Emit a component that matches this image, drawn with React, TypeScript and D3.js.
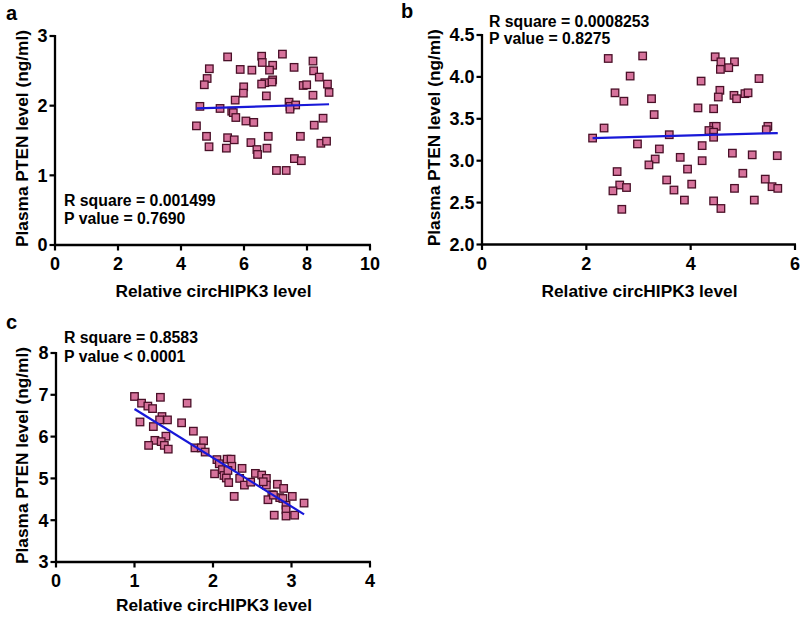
import React from "react";
import * as d3 from "d3";

// ---------- Data ----------
const aX = [5.48,6.56,7.22,6.58,6.91,6.81,7.59,8.19,8.21,8.39,4.90,4.83,4.74,5.88,6.25,5.99,5.98,6.66,6.56,6.91,6.89,7.88,7.99,8.65,8.70,8.19,6.71,5.72,4.60,5.24,5.61,5.66,5.74,7.43,7.46,7.64,7.46,6.06,6.31,4.49,8.51,8.23,4.81,5.48,5.69,6.77,7.79,4.89,5.44,6.22,6.41,6.43,6.73,8.44,8.62,7.60,7.82,7.03,7.34];
const aY = [2.70,2.71,2.74,2.62,2.58,2.51,2.55,2.64,2.50,2.41,2.53,2.39,2.30,2.52,2.51,2.27,2.18,2.33,2.31,2.37,2.34,2.29,2.30,2.31,2.19,2.15,2.14,2.08,1.99,1.96,1.92,1.90,1.83,2.05,1.99,2.01,1.95,1.78,1.76,1.71,1.82,1.72,1.56,1.54,1.51,1.56,1.56,1.41,1.39,1.47,1.37,1.30,1.39,1.46,1.49,1.24,1.21,1.07,1.07];

const bX = [2.42,3.08,2.84,2.55,2.72,3.25,3.30,2.34,2.12,3.59,2.98,3.40,3.80,3.32,3.20,3.94,2.59,2.64,2.77,2.51,3.54,3.68,3.88,2.68,4.02,
  4.47,4.58,4.84,4.73,4.57,4.20,5.31,4.56,4.53,4.83,4.88,5.04,5.10,4.14,4.44,4.44,4.49,4.35,4.44,4.44,5.48,5.45,4.22,4.22,4.80,5.18,5.66,5.00,5.43,5.56,5.67,4.84,4.44,4.58,5.22];
const bY = [4.22,4.25,4.01,3.81,3.71,3.74,3.55,3.39,3.27,3.31,3.20,3.14,3.04,3.02,2.95,2.90,2.87,2.71,2.68,2.64,2.77,2.65,2.53,2.42,2.72,
  4.24,4.18,4.18,4.11,4.09,3.95,3.98,3.84,3.76,3.78,3.74,3.80,3.81,3.63,3.62,3.41,3.41,3.36,3.34,3.28,3.41,3.37,3.18,3.00,3.09,3.07,3.06,2.85,2.78,2.69,2.67,2.67,2.52,2.43,2.53];

const cX = [1.00,1.09,1.17,1.23,1.33,1.67,1.07,1.35,1.42,1.32,1.24,1.60,1.75,1.40,1.26,1.34,1.18,1.38,1.43,1.88,1.77,1.85,1.90,2.05,2.08,2.02,
  2.18,2.23,2.24,2.12,2.14,2.17,2.20,2.19,2.37,2.34,2.40,2.48,2.54,2.62,2.68,2.68,2.64,2.27,2.82,2.90,2.75,2.70,2.85,2.89,3.01,2.93,2.93,3.16,2.78,2.93,3.04,2.77];
const cY = [6.96,6.80,6.73,6.67,6.94,6.80,6.35,6.48,6.40,6.40,6.24,6.33,6.13,6.01,5.91,5.88,5.79,5.79,5.70,5.90,5.73,5.73,5.63,5.45,5.35,5.11,
  5.46,5.46,5.29,5.21,5.07,5.01,4.90,5.19,5.24,5.00,4.84,4.91,5.12,5.08,5.00,4.84,4.92,4.57,4.86,4.76,4.61,4.49,4.54,4.52,4.57,4.36,4.25,4.41,4.12,4.10,4.12,4.60];

// regression line end points
const aLineX = [4.49, 8.70];
const aLineY = [1.96, 2.02];
const bLineX = [2.12, 5.67];
const bLineY = [3.27, 3.33];
const cLineX = [1.00, 3.16];
const cLineY = [6.66, 4.14];

const aXTicks = [0, 2, 4, 6, 8, 10];
const aYTicks = [0, 1, 2, 3];
const bXTicks = [0, 2, 4, 6];
const bYTicks = [2.0, 2.5, 3.0, 3.5, 4.0, 4.5];
const cXTicks = [0, 1, 2, 3, 4];
const cYTicks = [3, 4, 5, 6, 7, 8];

const aStats = ["R square = 0.001499", "P value = 0.7690"];
const bStats = ["R square = 0.0008253", "P value = 0.8275"];
const cStats = ["R square = 0.8583", "P value < 0.0001"];

const xTitle = "Relative circHIPK3 level";
const yTitle = "Plasma PTEN level (ng/ml)";

const FONT = "'Liberation Sans', Arial, sans-serif";
const FILL = "#d6729b";
const STROKE = "#4a1028";
const LINE = "#1818d8";

type PanelProps = {
  letter: string;
  letterPos: [number, number];
  xRange: [number, number];
  yRange: [number, number];
  xDomain: [number, number];
  yDomain: [number, number];
  xTicks: number[];
  yTicks: number[];
  yFmt: (v: number) => string;
  xs: number[];
  ys: number[];
  lx: number[];
  ly: number[];
  stats: string[];
  statsPos: [number, number, number];
  yTitleX: number;
  xTitleDy: number;
};

function Panel(p: PanelProps) {
  const x = d3.scaleLinear().domain(p.xDomain).range(p.xRange);
  const y = d3.scaleLinear().domain(p.yDomain).range(p.yRange);
  const x0 = p.xRange[0];
  const y0 = p.yRange[0];
  const line = d3.line<number>().x((d, i) => x(p.lx[i])).y((d, i) => y(p.ly[i]));
  const s = 7.5;
  return (
    <g fontFamily={FONT} fontWeight="bold">
      <text x={p.letterPos[0]} y={p.letterPos[1]} fontSize={20}>{p.letter}</text>
      {/* axes */}
      <line x1={x0 - 1} x2={p.xRange[1] + 1} y1={y0} y2={y0} stroke="#000" strokeWidth={2.3} />
      <line x1={x0} x2={x0} y1={y0 + 1} y2={p.yRange[1] - 1} stroke="#000" strokeWidth={2.3} />
      {p.xTicks.map((t) => (
        <g key={"xt" + t}>
          <line x1={x(t)} x2={x(t)} y1={y0} y2={y0 + 5.5} stroke="#000" strokeWidth={2.2} />
          <text x={x(t)} y={y0 + 25} textAnchor="middle" fontSize={18}>{t}</text>
        </g>
      ))}
      {p.yTicks.map((t) => (
        <g key={"yt" + t}>
          <line x1={x0 - 5.5} x2={x0} y1={y(t)} y2={y(t)} stroke="#000" strokeWidth={2.2} />
          <text x={x0 - 7.5} y={y(t) + 6.3} textAnchor="end" fontSize={18}>{p.yFmt(t)}</text>
        </g>
      ))}
      <text x={(p.xRange[0] + p.xRange[1]) / 2 + 1} y={y0 + p.xTitleDy} textAnchor="middle" fontSize={17.3}>{xTitle}</text>
      <text
        transform={`translate(${p.yTitleX},${(p.yRange[0] + p.yRange[1]) / 2 - 2}) rotate(-90)`}
        textAnchor="middle"
        fontSize={17.3}
      >{yTitle}</text>
      {/* points */}
      {p.xs.map((v, i) => (
        <rect key={i} x={x(v) - s / 2} y={y(p.ys[i]) - s / 2} width={s} height={s} fill={FILL} stroke={STROKE} strokeWidth={1.3} />
      ))}
      <path d={line(p.lx) || ""} stroke={LINE} strokeWidth={2.2} fill="none" />
      <text x={p.statsPos[0]} y={p.statsPos[1]} fontSize={15.8}>{p.stats[0]}</text>
      <text x={p.statsPos[0]} y={p.statsPos[2]} fontSize={15.8}>{p.stats[1]}</text>
    </g>
  );
}

export default function App() {
  return (
    <svg width={800} height={617} style={{ position: "absolute", left: 0, top: 0, background: "#fff" }}>
      <rect width={800} height={617} fill="#fff" />
      <Panel letter="a" letterPos={[6, 20]} xRange={[55, 370]} yRange={[245, 36]} xDomain={[0, 10]} yDomain={[0, 3]}
        xTicks={aXTicks} yTicks={aYTicks} yFmt={(v) => String(v)} xs={aX} ys={aY} lx={aLineX} ly={aLineY}
        stats={aStats} statsPos={[64, 206, 224]} yTitleX={28} xTitleDy={52} />
      <Panel letter="b" letterPos={[401, 18]} xRange={[482, 795]} yRange={[244.5, 35]} xDomain={[0, 6]} yDomain={[2, 4.5]}
        xTicks={bXTicks} yTicks={bYTicks} yFmt={(v) => v.toFixed(1)} xs={bX} ys={bY} lx={bLineX} ly={bLineY}
        stats={bStats} statsPos={[489, 26.5, 43.5]} yTitleX={440} xTitleDy={52} />
      <Panel letter="c" letterPos={[6, 329]} xRange={[56, 370]} yRange={[562, 353]} xDomain={[0, 4]} yDomain={[3, 8]}
        xTicks={cXTicks} yTicks={cYTicks} yFmt={(v) => String(v)} xs={cX} ys={cY} lx={cLineX} ly={cLineY}
        stats={cStats} statsPos={[64, 343, 362]} yTitleX={28} xTitleDy={49} />
    </svg>
  );
}
